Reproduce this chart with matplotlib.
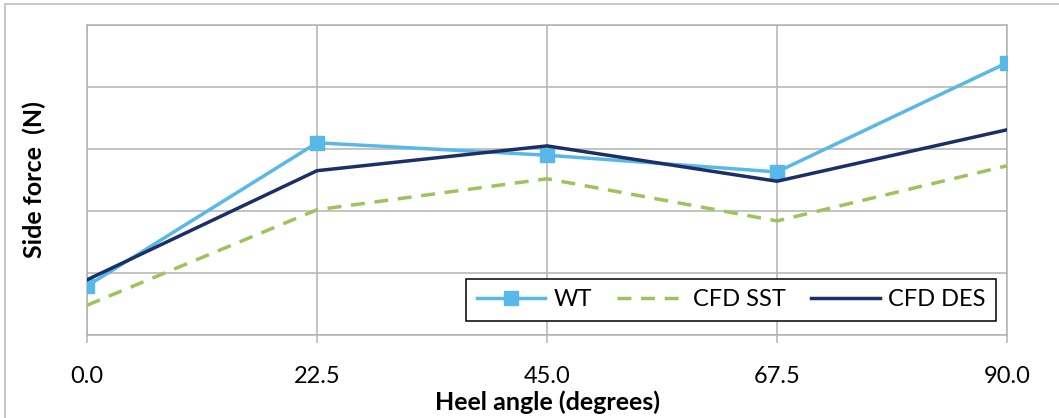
import matplotlib
matplotlib.use('Agg')
import matplotlib.pyplot as plt
from matplotlib import rcParams
from matplotlib.patches import Rectangle

rcParams['font.family'] = ['Lato', 'DejaVu Sans']

# data (side force, arbitrary units - no y labels in the source)
heel = [0.0, 22.5, 45.0, 67.5, 90.0]
wt = [0.79, 3.10, 2.90, 2.63, 4.39]
cfd_sst = [0.48, 2.02, 2.52, 1.84, 2.73]
cfd_des = [0.89, 2.65, 3.05, 2.48, 3.31]
xtick_labels = ['0.0', '22.5', '45.0', '67.5', '90.0']

c_wt = '#58B9E9'
c_sst = '#9DC35A'
c_des = '#1C2F66'
c_grid = '#B3B3B3'

fig = plt.figure(figsize=(10.59, 4.18), dpi=100)
ax = fig.add_axes([87 / 1059, 83 / 418, 920 / 1059, 310 / 418])

ax.plot(heel, wt, color=c_wt, lw=2.5, marker='s', markersize=10,
        label='WT', zorder=4)
ax.plot(heel, cfd_sst, color=c_sst, lw=2.5, dashes=(4, 2.8),
        label='CFD SST', zorder=3)
ax.plot(heel, cfd_des, color=c_des, lw=2.5, label='CFD DES', zorder=5)

ax.set_xlim(0, 90)
ax.set_ylim(0, 5)
ax.set_xticks(heel)
ax.set_xticklabels(xtick_labels, fontsize=17)
ax.set_yticks(range(0, 6))
ax.set_yticklabels([])
ax.tick_params(axis='y', length=0)
ax.tick_params(axis='x', direction='out', length=6, width=1.1,
               color=c_grid, pad=16)
ax.grid(True, color=c_grid, lw=1.1, zorder=0)
ax.set_axisbelow(True)
for s in ax.spines.values():
    s.set_color(c_grid)
    s.set_linewidth(1.1)

ax.set_xlabel('Heel angle (degrees)', fontsize=18, fontweight='bold',
              labelpad=3)
ax.set_ylabel('Side force  (N)', fontsize=18, fontweight='bold',
              labelpad=26)

leg = ax.legend(loc='lower right', bbox_to_anchor=(0.988, 0.045),
                ncol=3, fontsize=17, frameon=True, fancybox=False,
                borderaxespad=0, handlelength=2.9, handletextpad=0.35,
                columnspacing=1.05, borderpad=0.45)
leg.get_frame().set_edgecolor('black')
leg.get_frame().set_linewidth(1.1)
leg.get_frame().set_alpha(1)

# outer chart-area border (cropped at right/bottom)
fig.patches.append(Rectangle((5 / 1059, -0.1), 1.2, 1 - 4 / 418 + 0.1,
                             transform=fig.transFigure, fill=False,
                             edgecolor='#BDBDBD', lw=1.2))

fig.savefig('out.png', dpi=100)
